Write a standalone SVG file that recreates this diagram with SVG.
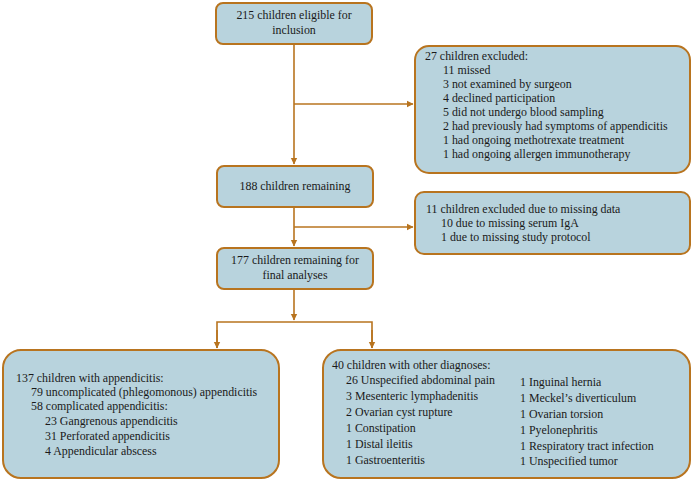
<svg xmlns="http://www.w3.org/2000/svg" width="694" height="481" viewBox="0 0 694 481">
<defs>
<style>
.box{fill:#b8d3dd;stroke:#b8741f;stroke-width:2}
.t{font-family:"Liberation Serif","Times New Roman",serif;font-size:11.9px;fill:#1a1a1a}
.c{text-anchor:middle}
.ln{fill:none;stroke:#b8741f;stroke-width:1.6}
</style>
<marker id="ah" markerWidth="8" markerHeight="8" refX="6" refY="4" orient="auto" markerUnits="userSpaceOnUse">
<path d="M0,0.8 L6.5,4 L0,7.2 Z" fill="#b8741f"/>
</marker>
</defs>
<rect width="694" height="481" fill="#fff"/>
<g id="connectors">
<line class="ln" x1="294" y1="44" x2="294" y2="164" marker-end="url(#ah)"/>
<line class="ln" x1="294" y1="104" x2="413" y2="104" marker-end="url(#ah)"/>
<line class="ln" x1="294" y1="207" x2="294" y2="246" marker-end="url(#ah)"/>
<line class="ln" x1="294" y1="227" x2="413" y2="227" marker-end="url(#ah)"/>
<line class="ln" x1="294" y1="289" x2="294" y2="320" marker-end="url(#ah)"/>
<polyline class="ln" points="217,348 217,322 372,322 372,348"/>
<line class="ln" x1="217" y1="330" x2="217" y2="348" marker-end="url(#ah)"/>
<line class="ln" x1="372" y1="330" x2="372" y2="348" marker-end="url(#ah)"/>
</g>
<g id="eligible">
<rect class="box" x="216" y="3" width="156" height="41" rx="7"/>
<text class="t c" x="294" y="19">215 children eligible for</text>
<text class="t c" x="294" y="34">inclusion</text>
</g>
<g id="excluded1">
<rect class="box" x="415" y="46" width="275" height="127" rx="14"/>
<text class="t" x="425" y="60">27 children excluded:</text>
<text class="t" x="443" y="74">11 missed</text>
<text class="t" x="443" y="88">3 not examined by surgeon</text>
<text class="t" x="443" y="102">4 declined participation</text>
<text class="t" x="443" y="116">5 did not undergo blood sampling</text>
<text class="t" x="443" y="130">2 had previously had symptoms of appendicitis</text>
<text class="t" x="443" y="144">1 had ongoing methotrexate treatment</text>
<text class="t" x="443" y="158">1 had ongoing allergen immunotherapy</text>
</g>
<g id="remaining188">
<rect class="box" x="217" y="166" width="156" height="41" rx="7"/>
<text class="t c" x="295" y="190">188 children remaining</text>
</g>
<g id="excluded2">
<rect class="box" x="415" y="192" width="275" height="62" rx="9"/>
<text class="t" x="426" y="213">11 children excluded due to missing data</text>
<text class="t" x="441" y="227">10 due to missing serum IgA</text>
<text class="t" x="441" y="241">1 due to missing study protocol</text>
</g>
<g id="remaining177">
<rect class="box" x="217" y="248" width="156" height="41" rx="7"/>
<text class="t c" x="295" y="264">177 children remaining for</text>
<text class="t c" x="295" y="279">final analyses</text>
</g>
<g id="appendicitis">
<rect class="box" x="3" y="350" width="276" height="128" rx="18"/>
<text class="t" x="16" y="382">137 children with appendicitis:</text>
<text class="t" x="31" y="396">79 uncomplicated (phlegomonous) appendicitis</text>
<text class="t" x="31" y="410">58 complicated appendicitis:</text>
<text class="t" x="45" y="425">23 Gangrenous appendicitis</text>
<text class="t" x="45" y="440">31 Perforated appendicitis</text>
<text class="t" x="45" y="455">4 Appendicular abscess</text>
</g>
<g id="other">
<rect class="box" x="323" y="350" width="367" height="128" rx="18"/>
<text class="t" x="332" y="369">40 children with other diagnoses:</text>
<text class="t" x="346" y="384">26 Unspecified abdominal pain</text>
<text class="t" x="346" y="400">3 Mesenteric lymphadenitis</text>
<text class="t" x="346" y="416">2 Ovarian cyst rupture</text>
<text class="t" x="346" y="432">1 Constipation</text>
<text class="t" x="346" y="448">1 Distal ileitis</text>
<text class="t" x="346" y="464">1 Gastroenteritis</text>
<text class="t" x="520" y="386">1 Inguinal hernia</text>
<text class="t" x="520" y="402">1 Meckel’s diverticulum</text>
<text class="t" x="520" y="418">1 Ovarian torsion</text>
<text class="t" x="520" y="434">1 Pyelonephritis</text>
<text class="t" x="520" y="450">1 Respiratory tract infection</text>
<text class="t" x="520" y="465">1 Unspecified tumor</text>
</g>
</svg>
